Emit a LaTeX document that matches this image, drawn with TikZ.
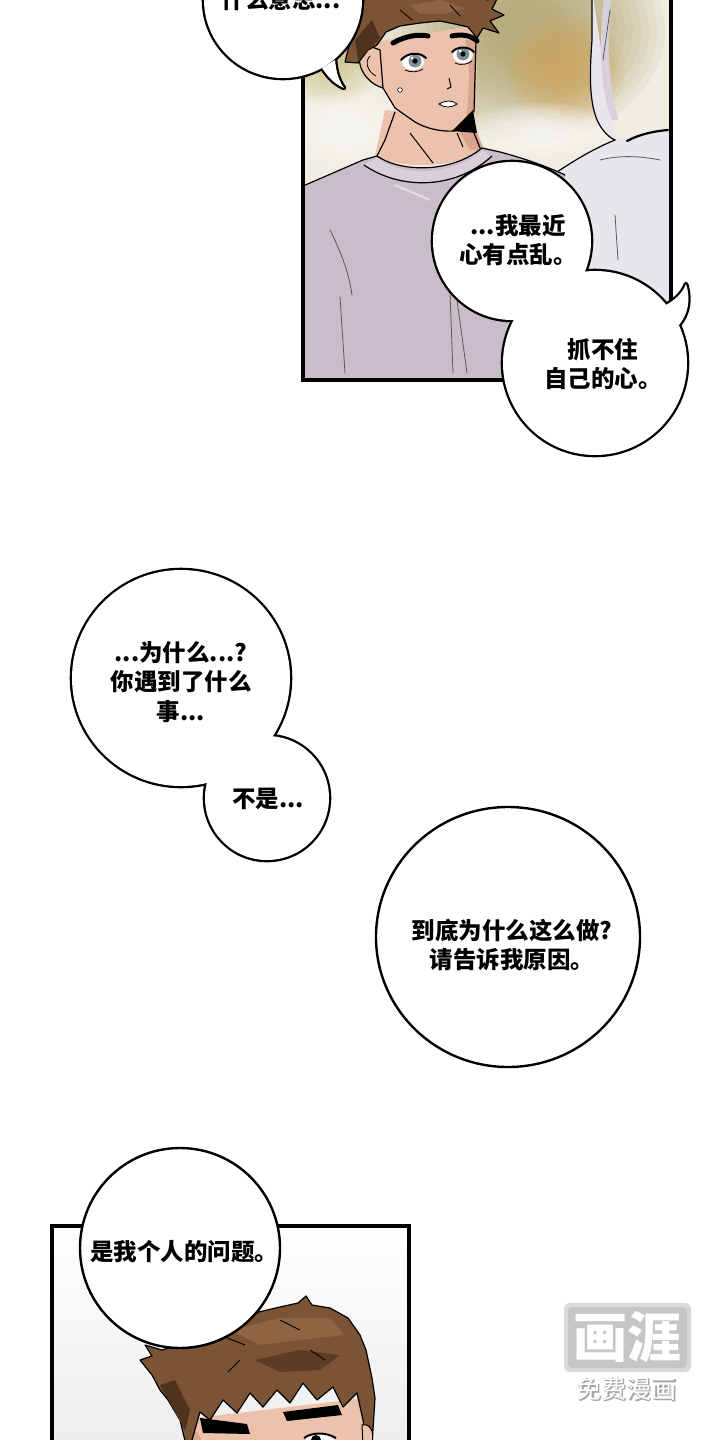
\documentclass[tikz,border=0pt]{standalone}
\usepackage{fontspec}
\newfontfamily\cjkb{Noto Sans CJK SC}
\newcommand{\cjk}{\cjkb\bfseries}
\definecolor{hairc}{HTML}{7B5335}
\definecolor{hairlt}{HTML}{8E6442}
\definecolor{hairdark}{HTML}{4E321E}
\definecolor{skin}{HTML}{EDC2AC}
\definecolor{skindark}{HTML}{D9A48E}
\definecolor{shirt}{HTML}{C9BDCA}
\definecolor{shirtlt}{HTML}{D8CFD9}
\definecolor{hood}{HTML}{E8E5ED}
\definecolor{hooddk}{HTML}{D6D0DC}
\definecolor{bgcream}{HTML}{F0EDE2}
\definecolor{olive}{HTML}{A99B5E}
\definecolor{amber}{HTML}{D4A55A}
\definecolor{iris}{HTML}{7D8E98}
\tikzset{
  panel/.style={draw=black, line width=3.2pt},
  ink/.style={draw=black, line width=1.2pt, line join=round, line cap=round},
  thin/.style={draw=black!65, line width=0.8pt, line cap=round},
  bubline/.style={draw=black, line width=4.6pt, fill=white, line join=round},
  bubsingle/.style={draw=black, line width=2.4pt, fill=white},
  bubfill/.style={fill=white},
  txt/.style={font=\cjk\fontsize{23.5}{29.5}\selectfont, align=center, inner sep=0pt, text=black},
}
\begin{document}
\begin{tikzpicture}[x=1pt,y=-1pt]
\useasboundingbox (0,0) rectangle (720,1440);
\fill[white] (0,0) rectangle (720,1440);

% ================= TOP PANEL =================
\begin{scope}
\clip (303,-10) rectangle (671,380);
\fill[bgcream] (303,-10) rectangle (671,380);
\foreach \r in {140,132,...,30} {\fill[olive, opacity=0.09] (525,30) ellipse [x radius=\r, y radius=0.8*\r];}
\foreach \r in {60,55,...,10} {\fill[amber, opacity=0.11] (565,70) ellipse [x radius=\r, y radius=0.9*\r];}
\foreach \r in {60,55,...,15} {\fill[olive!85!yellow, opacity=0.08] (330,45) circle (\r);}
\foreach \r in {55,50,...,10} {\fill[white, opacity=0.1] (345,130) ellipse [x radius=\r, y radius=0.7*\r];}
\foreach \r in {70,64,...,10} {\fill[white, opacity=0.1] (540,130) ellipse [x radius=\r, y radius=0.4*\r];}
% hooded figure
\fill[hood] (592,-10) -- (592,40) .. controls (589,80) and (590,105) .. (598,122)
  .. controls (603,132) and (610,138) .. (615,140) -- (672,128) -- (672,380) -- (555,380)
  -- (557,172) .. controls (575,160) and (595,148) .. (615,140) -- cycle;
\fill[hooddk] (605,-10) .. controls (598,40) and (600,90) .. (612,120) -- (618,120) .. controls (608,80) and (606,40) .. (612,-10) -- cycle;
\draw[ink] (592,-10) -- (592,40) .. controls (589,80) and (590,105) .. (598,122) .. controls (603,132) and (610,138) .. (615,140);
\draw[ink] (557,172) .. controls (575,160) and (595,148) .. (615,140);
\draw[line width=2.2pt, line cap=round] (627,141) .. controls (640,134) and (655,131) .. (668,130);
\draw[thin] (610,10) -- (603,60);
\draw[thin] (600,160) .. controls (620,155) and (640,156) .. (660,160);
\draw[thin] (615,215) -- (618,260);
% neck
\fill[skin] (385,110) -- (470,120) -- (484,150) .. controls (455,168) and (405,170) .. (375,156) -- cycle;
\fill[skindark] (455,125) -- (472,120) -- (484,150) -- (470,150) -- cycle;
\draw[ink] (395,112) -- (385,140) -- (377,156);
\draw[ink] (472,128) -- (480,148);
\draw[line width=1pt] (410,133) -- (433,163);
\draw[line width=1pt] (457,133) -- (463,147);
% shirt
\fill[shirt] (303,186) -- (363,160) -- (377,156) .. controls (400,172) and (450,174) .. (482,148)
  -- (500,152) .. controls (530,160) and (550,168) .. (565,175) -- (575,380) -- (303,380) -- cycle;
\fill[shirtlt] (377,158) .. controls (400,176) and (450,178) .. (482,150) -- (490,156) .. controls (455,190) and (400,190) .. (364,165) -- cycle;
\draw[ink] (303,186) -- (363,160) -- (377,156) .. controls (400,172) and (450,174) .. (482,148) -- (500,152) .. controls (530,160) and (550,168) .. (565,175);
\draw[ink] (364,165) .. controls (400,190) and (455,190) .. (492,156);
\draw[thin] (340,297) -- (345,373);
\draw[thin] (450,293) -- (453,373);
\draw[thin] (457,300) -- (467,373);
\draw[thin] (330,230) .. controls (345,260) and (350,280) .. (352,295);
\draw[draw=white, line width=2pt, opacity=.5] (395,185) -- (430,200);
% face
\fill[skin] (356,45) -- (476,25) -- (477,70) -- (474,112) -- (455,131)
  .. controls (440,132) and (425,128) .. (415,122) -- (395,108) -- (383,88) -- (368,80) -- cycle;
\fill[skindark] (465,40) -- (477,40) -- (475,110) -- (466,118) .. controls (470,90) and (470,60) .. (465,40) -- cycle;
\draw[ink] (383,88) -- (395,108) -- (415,122) .. controls (425,128) and (440,132) .. (455,131);
\draw[ink] (476,40) -- (474,112);
\fill[black] (452,131) -- (473,110) -- (477,133) -- cycle;
% ear
\fill[skin, draw=black, line width=1.2pt] (372,47) .. controls (352,45) and (356,80) .. (383,88) -- (380,50) -- cycle;
\draw[line width=0.8pt] (370,56) .. controls (364,62) and (368,72) .. (376,76);
% hair
\fill[hairc, draw=black, line width=1.2pt, line join=round]
  (345,62) -- (350,42) -- (342,27) -- (352,24) -- (345,8) -- (356,10) -- (352,-10)
  -- (480,-10) -- (487,0) -- (498,-3) -- (492,9) -- (504,15) -- (490,21) -- (499,33)
  -- (483,28) -- (477,38) -- (468,27) -- (455,24) -- (440,21) -- (420,23) -- (400,26)
  -- (386,32) -- (377,45) -- (368,50) -- (358,63) -- cycle;
\fill[hairdark] (355,40) -- (372,20) -- (380,38) -- (368,50) -- (358,60) -- cycle;
\fill[hairlt] (410,5) -- (440,0) -- (465,8) -- (445,14) -- (420,14) -- cycle;
\draw[line width=0.8pt] (400,10) -- (412,20);
\draw[line width=0.8pt] (450,5) -- (460,16);
% brows and eyes
\draw[line width=5pt, line cap=round] (393,43) .. controls (405,36) and (418,34) .. (428,36);
\draw[line width=5pt, line cap=round] (452,36) .. controls (462,34) and (470,35) .. (477,41);
\fill[white] (413,62) ellipse [x radius=11, y radius=8];
\fill[iris] (415,61) circle (6.5);
\fill[black] (415,61) circle (2.6);
\fill[white] (412,58) circle (1.5);
\draw[line width=2pt, line cap=round] (401,60) .. controls (408,52) and (420,52) .. (426,58);
\draw[line width=0.8pt] (405,70) .. controls (412,73) and (418,72) .. (423,69);
\fill[white] (463,55) ellipse [x radius=10, y radius=8];
\fill[iris] (463,54) circle (6.5);
\fill[black] (463,54) circle (2.6);
\fill[white] (460,51) circle (1.5);
\draw[line width=2pt, line cap=round] (452,52) .. controls (458,46) and (468,46) .. (474,52);
\draw[line width=0.8pt] (455,63) .. controls (462,66) and (468,64) .. (472,61);
\draw[line width=1pt] (449,78) -- (451,87) -- (447,89);
\fill[white, draw=black, line width=0.8pt] (439,104) .. controls (446,100) and (452,100) .. (457,104) .. controls (452,108) and (444,108) .. (439,104) -- cycle;
\fill[white, draw=black, line width=0.6pt] (400,90) circle (2.3);
\end{scope}
\draw[panel] (303,-10) -- (303,380) -- (671,380) -- (671,-10);

% ================= BUBBLES =================
% top-left bubble
\draw[bubline] (322,68) .. controls (330,80) and (337,85) .. (344,88) .. controls (338,80) and (336,70) .. (335,60);
\draw[bubline] (283,0) ellipse [x radius=79, y radius=78];
\fill[bubfill] (322,68) .. controls (330,80) and (337,85) .. (344,88) .. controls (338,80) and (336,70) .. (335,60) -- cycle;
\fill[bubfill] (283,0) ellipse [x radius=79, y radius=78];
\node[txt, anchor=base] (t0) at (281,9) {什么意思...};

% compound A + B
\draw[bubline] (664,306) .. controls (676,300) and (683,292) .. (686,284) .. controls (691,300) and (688,314) .. (679,325);
\draw[bubline] (512,241) circle (79);
\draw[bubline] (595,363) circle (92);
\fill[bubfill] (664,306) .. controls (676,300) and (683,292) .. (686,284) .. controls (691,300) and (688,314) .. (679,325) -- cycle;
\fill[bubfill] (512,241) circle (79);
\fill[bubfill] (595,363) circle (92);
\node[txt] (t1) at (518,240) {...我最近\\心有点乱。};
\node[txt] (t2) at (603,364) {抓不住\\自己的心。};

% compound C + D
\draw[bubline] (181,678) ellipse [x radius=109, y radius=108];
\draw[bubline] (267,798) circle (62);
\fill[bubfill] (181,678) ellipse [x radius=109, y radius=108];
\fill[bubfill] (267,798) circle (62);
\node[txt] (t3) at (181,682) {...为什么...?\\你遇到了什么\\事...};
\node[txt] (t4) at (268,799) {不是...};

% big circle E
\draw[bubsingle] (508,937) ellipse [x radius=132, y radius=130];
\node[txt] (t5) at (512,945) {到底为什么这么做?\\请告诉我原因。};

% ================= BOTTOM PANEL =================
\begin{scope}
\clip (52,1226) rectangle (409,1450);
\shade[top color=white, bottom color=gray!14] (52,1226) rectangle (409,1445);
\fill[skin] (183,1445) -- (195,1418) -- (365,1398) -- (374,1445) -- cycle;
\fill[skindark] (183,1445) -- (192,1425) -- (205,1445) -- cycle;
\fill[hairc, draw=black, line width=1.2pt, line join=round]
  (140,1360) -- (152,1356) -- (145,1345) -- (162,1350) -- (185,1342) -- (200,1335) -- (225,1322)
  -- (250,1314) -- (280,1307) -- (298,1303) -- (306,1296) -- (312,1305) -- (330,1308)
  -- (348,1318) -- (360,1335) -- (366,1350) -- (372,1378) -- (375,1398) -- (372,1445)
  -- (366,1445) -- (363,1420) -- (357,1393) -- (343,1407) -- (333,1387) -- (317,1400)
  -- (303,1383) -- (290,1403) -- (277,1390) -- (263,1407) -- (250,1393) -- (237,1413)
  -- (223,1400) -- (210,1420) -- (200,1412) -- (192,1440) -- (186,1445) -- (180,1420)
  -- (168,1400) -- (160,1390) -- (152,1375) -- cycle;
\fill[hairdark] (160,1385) -- (175,1380) -- (190,1410) -- (185,1430) -- cycle;
\fill[hairlt] (230,1330) -- (280,1318) -- (330,1318) -- (345,1335) -- (300,1340) -- (260,1345) -- cycle;
\fill[hairdark!70!hairc] (255,1360) -- (300,1350) -- (340,1355) -- (320,1370) -- (280,1372) -- cycle;
\draw[line width=0.9pt] (220,1335) -- (245,1345);
\draw[line width=0.9pt] (280,1320) -- (300,1330);
\draw[line width=0.9pt] (310,1350) -- (325,1360);
\draw[line width=0.9pt] (240,1360) -- (228,1372);
\fill[black] (200,1418) -- (247,1424) -- (250,1434) -- (203,1433) -- cycle;
\fill[black] (283,1412) -- (338,1405) -- (342,1415) -- (287,1421) -- cycle;
\fill[white] (320,1442) ellipse [x radius=15, y radius=8];
\fill[black] (316,1440) circle (5);
\draw[line width=2pt] (304,1438) .. controls (312,1432) and (326,1432) .. (336,1438);
\fill[skin, draw=black, line width=1pt] (362,1425) .. controls (372,1422) and (376,1438) .. (370,1445) -- (363,1445) -- cycle;
\end{scope}
\draw[panel] (52,1450) -- (52,1226) -- (409,1226) -- (409,1450);

% bubble F
\draw[bubsingle] (180,1248) circle (100);
\node[txt] (t6) at (184,1252) {是我个人的问题。};

% ================= WATERMARK =================
\fill[gray!30, rounded corners=6] (564,1303) rectangle (691,1372);
\fill[gray!45, rounded corners=4] (568,1307) rectangle (687,1368);
\node[font=\cjkb\bfseries\fontsize{54}{54}\selectfont, text=white, inner sep=0pt] (wm1) at (627,1337) {画涯};
\node[font=\cjk\fontsize{25}{25}\selectfont, text=gray!70, inner sep=0pt] (wm2s) at (627.5,1390) {免费漫画};
\node[font=\cjkb\fontsize{25}{25}\selectfont, text=white, inner sep=0pt] (wm2) at (626,1389) {免费漫画};
\end{tikzpicture}
\end{document}
